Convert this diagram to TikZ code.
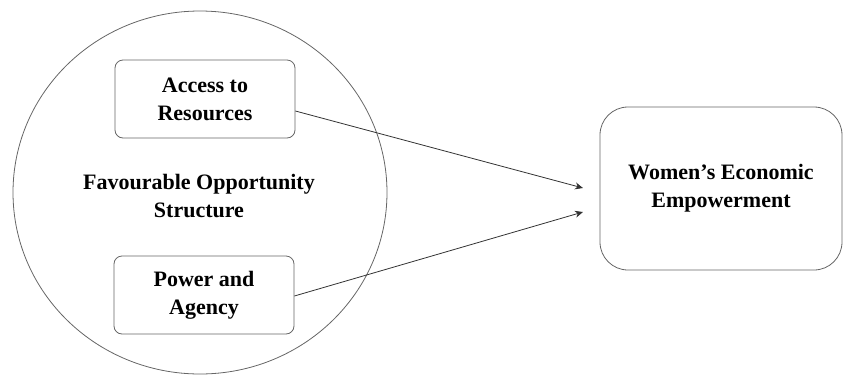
\documentclass[tikz,border=0pt]{standalone}
\usepackage{fontspec}
\setmainfont{Liberation Serif}
\usetikzlibrary{arrows.meta}

\begin{document}
\begin{tikzpicture}[x=0.5pt, y=-0.5pt,
  every node/.style = {align=center, font=\bfseries\fontsize{11}{14}\selectfont},
  factor/.style = {shape=rectangle, rounded corners=4pt, draw=black!60,
    minimum width=90pt, minimum height=39pt},
  outcome/.style = {shape=rectangle, rounded corners=14pt, draw=black!60,
    minimum width=121pt, minimum height=81.5pt},
  link/.style = {draw=black!80, -{Stealth[length=4pt,width=3.5pt]}}]
  \useasboundingbox (0,0) rectangle (843,376);
  % opportunity structure
  \draw[black!60] (200,192.5) ellipse [x radius=187, y radius=181.5];
  \node (fos) at (199,196) {Favourable Opportunity\\Structure};
  \node[factor] (access) at (205,99) {Access to\\Resources};
  \node[factor] (power) at (204,295) {Power and\\Agency};
  \node[outcome] (wee) at (721,188.5) {Women's Economic\\Empowerment};
  \coordinate (in1) at (583,188);
  \coordinate (in2) at (583,212);
  \draw[link] (access.east |- 0,111) -- (in1);
  \draw[link] (power.east |- 0,296) -- (in2);
\end{tikzpicture}
\end{document}
